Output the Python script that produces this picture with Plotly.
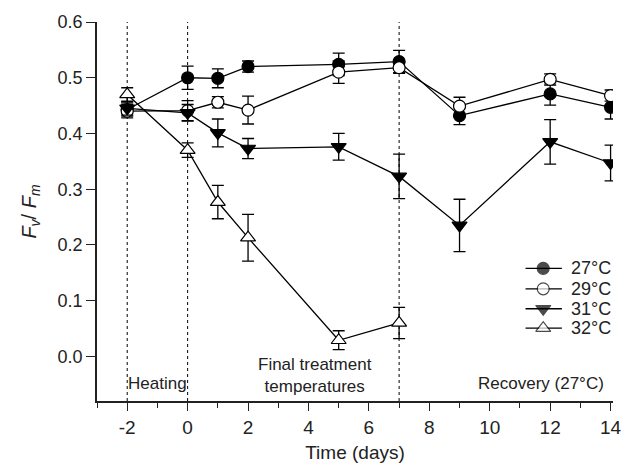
import plotly.graph_objects as go

days = [-2, 0, 1, 2, 5, 7, 9, 12, 14]
days32 = [-2, 0, 1, 2, 5, 7]

fv27 = [0.443, 0.500, 0.499, 0.520, 0.524, 0.529, 0.432, 0.471, 0.447]
err27 = [0.012, 0.021, 0.017, 0.010, 0.020, 0.020, 0.016, 0.020, 0.021]
fv29 = [0.440, 0.441, 0.456, 0.442, 0.510, 0.518, 0.449, 0.497, 0.468]
err29 = [0.012, 0.018, 0.010, 0.025, 0.020, 0.010, 0.016, 0.010, 0.010]
fv31 = [0.445, 0.437, 0.401, 0.373, 0.376, 0.323, 0.235, 0.385, 0.347]
err31 = [0.012, 0.015, 0.025, 0.018, 0.024, 0.040, 0.047, 0.040, 0.032]
fv32 = [0.470, 0.370, 0.277, 0.213, 0.029, 0.060]
err32 = [0.012, 0.013, 0.030, 0.042, 0.017, 0.028]

labels = ["27°C", "29°C", "31°C", "32°C"]
phase_lines = [-2, 0, 7]
x_tickvals = [-2, 0, 2, 4, 6, 8, 10, 12, 14]
x_ticktext = ["-2", "0", "2", "4", "6", "8", "10", "12", "14"]
y_tickvals = [0, 0.1, 0.2, 0.3, 0.4, 0.5, 0.6]

font = "Liberation Sans, Arial, Helvetica, sans-serif"
ink = "#222"
fig = go.Figure()

specs = [
    (days, fv27, err27, "circle", "black", 12),
    (days, fv29, err29, "circle", "white", 12),
    (days, fv31, err31, "triangle-down", "black", 13),
    (days32, fv32, err32, "triangle-up", "white", 13),
]
for (x, y, e, sym, fill, sz), name in zip(specs, labels):
    fig.add_trace(go.Scatter(
        x=x, y=y, name=name, mode="lines+markers", showlegend=False,
        line=dict(color="black", width=1.3),
        marker=dict(symbol=sym, size=sz, color=fill, line=dict(color="black", width=1.2)),
        error_y=dict(type="data", array=e, visible=True, color="black", thickness=1.3, width=6),
    ))

# manual legend drawn on a hidden pixel-space overlay axis pair
leg_rows = [269, 289.5, 309.5, 329]
for (x, y, e, sym, fill, sz), name, ry in zip(specs, labels, leg_rows):
    fig.add_trace(go.Scatter(
        x=[533, 551, 570], y=[ry, ry, ry], xaxis="x2", yaxis="y2", showlegend=False,
        mode="lines+markers", line=dict(color="black", width=1.3), hoverinfo="skip",
        marker=dict(symbol=sym, size=[0, sz, 0], color=fill, line=dict(color="black", width=[0, 1.2, 0])),
    ))
    fig.add_annotation(x=577, y=ry, text=name, showarrow=False, xanchor="left", yanchor="middle",
                       xref="x2", yref="y2", font=dict(size=18, color=ink))

for xv in phase_lines:
    fig.add_shape(type="line", x0=xv, x1=xv, y0=-0.08, y1=0.6, xref="x", yref="y",
                  line=dict(color="black", width=1, dash="dot"), layer="below")

fig.add_annotation(x=-2.05, y=-0.048, text="Heating", showarrow=False, xanchor="left",
                   font=dict(size=17, color=ink), xref="x", yref="y")
fig.add_annotation(x=4.2, y=-0.034, text="Final treatment<br>temperatures", showarrow=False,
                   font=dict(size=17, color=ink), xref="x", yref="y")
fig.add_annotation(x=13.85, y=-0.048, text="Recovery (27°C)", showarrow=False, xanchor="right",
                   font=dict(size=17, color=ink), xref="x", yref="y")

fig.update_layout(
    width=633, height=471,
    margin=dict(l=97, r=11, t=22, b=69),
    plot_bgcolor="white", paper_bgcolor="white",
    font=dict(family=font, size=18, color=ink),
    showlegend=False,
    xaxis=dict(range=[-3, 14.08], tickvals=x_tickvals, ticktext=x_ticktext,
               ticks="outside", ticklen=8, tickwidth=1.3, tickcolor=ink,
               tickfont=dict(size=19),
               showline=True, linecolor=ink, linewidth=1.5, showgrid=False, zeroline=False,
               minor=dict(tickvals=[-3, -1, 1, 3, 5, 7, 9, 11, 13], ticks="outside", ticklen=5,
                          tickcolor=ink, tickwidth=1.3),
               title=dict(text="Time (days)", standoff=9, font=dict(size=19))),
    yaxis=dict(range=[-0.08, 0.6], tickvals=y_tickvals,
               tickformat=".1f",
               ticks="outside", ticklen=9, tickwidth=1.3, tickcolor=ink,
               tickfont=dict(size=18),
               showline=True, linecolor=ink, linewidth=1.5, showgrid=False, zeroline=False,
               title=dict(text="<i>F</i><sub><i>v</i></sub>/ <i>F</i><sub><i>m</i></sub>",
                          standoff=16, font=dict(size=20))),
    xaxis2=dict(range=[97, 622], overlaying="x", visible=False, fixedrange=True),
    yaxis2=dict(range=[402, 22], overlaying="y", visible=False, fixedrange=True),
)

fig.write_html("out.html")
